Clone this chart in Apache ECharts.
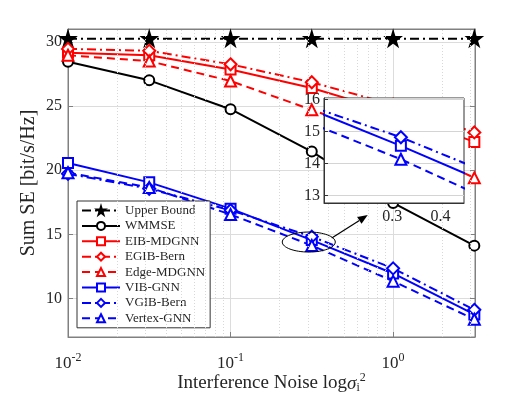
<!DOCTYPE html>
<html>
<head>
<meta charset="utf-8">
<script src="https://cdn.jsdelivr.net/npm/echarts@6/dist/echarts.min.js"></script>
<style>
  html, body { margin: 0; padding: 0; background: #fff; }
  #chart { width: 525px; height: 394px; }
</style>
</head>
<body>
<div id="chart"></div>
<script>
// interference noise levels (x)
const noise = [0.01, 0.0316, 0.1, 0.316, 1, 3.16];

// sum SE per method [bit/s/Hz]
const upperBound = [30.25, 30.25, 30.25, 30.25, 30.25, 30.25];
const wmmse      = [28.45, 27.0, 24.75, 21.45, 17.45, 14.12];
const eibMdgnn   = [29.15, 28.95, 27.85, 26.4, 24.5, 22.2];
const egibBern   = [29.45, 29.3, 28.25, 26.85, 25.1, 22.94];
const edgeMdgnn  = [28.95, 28.5, 26.95, 24.7, 22.4, 19.4];
const vibGnn     = [20.56, 19.05, 17.0, 14.55, 11.95, 8.76];
const vgibBern   = [19.72, 18.55, 16.88, 14.82, 12.35, 9.12];
const vertexGnn  = [19.8, 18.65, 16.55, 14.13, 11.35, 8.38];

// grid values
const minorX = [0.02, 0.03, 0.04, 0.05, 0.06, 0.07, 0.08, 0.09,
                0.2, 0.3, 0.4, 0.5, 0.6, 0.7, 0.8, 0.9, 2, 3];
const insetMajorX = [0.25, 0.3, 0.35, 0.4];
const insetMinorX = [0.21, 0.22, 0.23, 0.24, 0.26, 0.27, 0.28, 0.29, 0.31, 0.32, 0.33, 0.34,
                     0.36, 0.37, 0.38, 0.39, 0.41, 0.42, 0.43, 0.44, 0.45];
const insetLabelsX = [0.3, 0.4];

const FONT = 'Liberation Serif';
const STAR = 'path://M50,0 L61,35 L98,35 L68,57 L79,91 L50,70 L21,91 L32,57 L2,35 L39,35 Z';
const DASH = [8, 5];
const DASHDOT = [9, 4, 2, 4];

const methods = [
  { name: 'Upper Bound', data: upperBound, color: '#000', line: DASHDOT, symbol: STAR, size: 15 },
  { name: 'WMMSE', data: wmmse, color: '#000', line: 'solid', symbol: 'emptyCircle', size: 10 },
  { name: 'EIB-MDGNN', data: eibMdgnn, color: '#ff0000', line: 'solid', symbol: 'emptyRect', size: 10 },
  { name: 'EGIB-Bern', data: egibBern, color: '#ff0000', line: DASHDOT, symbol: 'emptyDiamond', size: 12 },
  { name: 'Edge-MDGNN', data: edgeMdgnn, color: '#ff0000', line: DASH, symbol: 'emptyTriangle', size: 11 },
  { name: 'VIB-GNN', data: vibGnn, color: '#0000ff', line: 'solid', symbol: 'emptyRect', size: 10 },
  { name: 'VGIB-Bern', data: vgibBern, color: '#0000ff', line: DASHDOT, symbol: 'emptyDiamond', size: 12 },
  { name: 'Vertex-GNN', data: vertexGnn, color: '#0000ff', line: DASH, symbol: 'emptyTriangle', size: 11 }
];

function makeSeries(m, inset) {
  return {
    name: m.name,
    type: 'line',
    xAxisIndex: inset ? 2 : 0,
    yAxisIndex: inset ? 2 : 0,
    data: noise.map((x, i) => [inset ? Math.log10(x) : x, m.data[i]]),
    symbol: m.symbol,
    symbolSize: m.size,
    clip: true,
    z: inset ? 12 : 2,
    lineStyle: { color: m.color, width: 2, type: m.line },
    itemStyle: { color: m.color, borderColor: m.color, borderWidth: 1.6 },
    emphasis: { disabled: true },
    animation: false
  };
}

const axisColor = '#808080';
const textColor = '#262626';

const chart = echarts.init(document.getElementById('chart'));

const option = {
  backgroundColor: '#fff',
  animation: false,
  grid: [
    { left: 68, top: 29, right: 50, bottom: 57, outerBoundsMode: 'none', containLabel: false,
      show: true, borderColor: axisColor, borderWidth: 1, backgroundColor: '#fff' },
    { left: 324, top: 98, width: 140, height: 105, outerBoundsMode: 'none', containLabel: false,
      show: true, borderColor: '#333', borderWidth: 1, backgroundColor: '#fff', z: 10 }
  ],
  legend: {
    left: 77, top: 201,
    orient: 'vertical',
    itemWidth: 38, itemHeight: 10, itemGap: 2.4,
    padding: [3, 5, 3, 4],
    borderColor: '#333', borderWidth: 1,
    backgroundColor: '#fff',
    textStyle: { fontFamily: FONT, fontSize: 13, color: textColor },
    data: methods.map(m => m.name)
  },
  xAxis: [
    {
      type: 'log', gridIndex: 0, min: 0.01, max: 3.19, logBase: 10,
      name: '{t|Interference Noise log}{s|σ}{sub|i}{sup|2}',
      nameLocation: 'middle', nameGap: 35, nameMoveOverlap: false,
      nameTextStyle: {
        rich: {
          t: { fontFamily: FONT, fontSize: 19, color: textColor },
          s: { fontFamily: FONT, fontSize: 19, fontStyle: 'italic', color: textColor },
          sub: { fontFamily: FONT, fontSize: 12, color: textColor, padding: [9, 0, 0, 0] },
          sup: { fontFamily: FONT, fontSize: 12, color: textColor, padding: [0, 0, 11, 0] }
        }
      },
      axisLine: { lineStyle: { color: axisColor } },
      axisTick: { inside: true, length: 5, lineStyle: { color: axisColor } },
      axisLabel: {
        margin: 15, showMaxLabel: false,
        formatter: v => '{b|10}{e|' + Math.round(Math.log10(v)) + '}',
        rich: {
          b: { fontFamily: FONT, fontSize: 17, color: textColor },
          e: { fontFamily: FONT, fontSize: 12, color: textColor, padding: [0, 0, 11, 0] }
        }
      },
      splitLine: { show: true, lineStyle: { color: '#dcdcdc', width: 1 } }
    },
    {
      type: 'log', gridIndex: 0, min: 0.01, max: 3.19, position: 'top',
      axisLine: { lineStyle: { color: axisColor } },
      axisTick: { inside: true, length: 5, lineStyle: { color: axisColor } },
      axisLabel: { show: false }, splitLine: { show: false }
    },
    {
      type: 'value', gridIndex: 1, min: Math.log10(0.2), max: Math.log10(0.46), z: 11,
      axisLine: { lineStyle: { color: '#333' } },
      axisTick: { show: false },
      axisLabel: {
        customValues: insetLabelsX.map(v => Math.log10(v)),
        formatter: v => Math.pow(10, v).toFixed(1),
        fontFamily: FONT, fontSize: 16, color: textColor, margin: 6
      },
      splitLine: { show: false }
    }
  ],
  yAxis: [
    {
      type: 'value', gridIndex: 0, min: 7, max: 31, splitNumber: 5,
      name: 'Sum SE [bit/s/Hz]', nameLocation: 'middle', nameGap: 29, nameMoveOverlap: false,
      nameTextStyle: { fontFamily: FONT, fontSize: 20, color: textColor },
      axisLine: { show: true, lineStyle: { color: axisColor } },
      axisTick: { show: true, inside: true, length: 5, lineStyle: { color: axisColor } },
      axisLabel: { showMinLabel: false, showMaxLabel: false, fontFamily: FONT, fontSize: 16, color: textColor, margin: 6 },
      splitLine: { show: true, lineStyle: { color: '#dcdcdc', width: 1 } }
    },
    {
      type: 'value', gridIndex: 0, min: 7, max: 31, splitNumber: 5, position: 'right',
      axisLine: { show: true, lineStyle: { color: axisColor } },
      axisTick: { show: true, inside: true, length: 5, lineStyle: { color: axisColor } },
      axisLabel: { show: false }, splitLine: { show: false }
    },
    {
      type: 'value', gridIndex: 1, min: 12.76, max: 16.05, splitNumber: 3, z: 11,
      axisLine: { show: true, lineStyle: { color: '#333' } },
      axisTick: { show: true, inside: true, length: 4, lineStyle: { color: '#333' } },
      axisLabel: { showMinLabel: false, showMaxLabel: false, fontFamily: FONT, fontSize: 16, color: textColor, margin: 4 },
      splitLine: { show: true, lineStyle: { color: '#d4d4d4', width: 1 } }
    }
  ],
  series: [
    // minor grid of main axes
    {
      type: 'line', xAxisIndex: 0, yAxisIndex: 0, data: [], silent: true, z: 1,
      markLine: {
        silent: true, symbol: 'none', label: { show: false },
        lineStyle: { color: '#d8d8d8', type: [1, 2], width: 1 },
        data: minorX.map(v => ({ xAxis: v }))
      }
    },
    // grid of inset
    {
      type: 'line', xAxisIndex: 2, yAxisIndex: 2, data: [], silent: true, z: 11,
      markLine: {
        silent: true, symbol: 'none', label: { show: false },
        lineStyle: { color: '#dadada', type: [1, 2], width: 1 },
        data: insetMinorX.map(v => ({ xAxis: Math.log10(v) }))
      }
    },
    {
      type: 'line', xAxisIndex: 2, yAxisIndex: 2, data: [], silent: true, z: 11,
      markLine: {
        silent: true, symbol: 'none', label: { show: false },
        lineStyle: { color: '#cfcfcf', type: 'solid', width: 1 },
        data: insetMajorX.map(v => ({ xAxis: Math.log10(v) }))
      }
    }
  ]
    .concat(methods.map(m => makeSeries(m, false)))
    .concat(methods.map(m => makeSeries(m, true)))
};

chart.setOption(option);

// ellipse around the 0.316 cluster with arrow to the zoomed view
const c = chart.convertToPixel({ xAxisIndex: 0, yAxisIndex: 0 }, [0.316, 14.4]);
const cx = c[0] - 3, cy = c[1];
const ax0 = cx + 23, ay0 = cy - 4, ax1 = cx + 59, ay1 = cy - 27;
const ang = Math.atan2(ay1 - ay0, ax1 - ax0);
const hl = 10, hw = 4;
const bx = ax1 - hl * Math.cos(ang), by = ay1 - hl * Math.sin(ang);
chart.setOption({
  graphic: [
    { type: 'ellipse', shape: { cx: cx, cy: cy, rx: 26.5, ry: 10 }, style: { fill: 'none', stroke: '#000', lineWidth: 1 }, z: 20 },
    { type: 'line', shape: { x1: ax0, y1: ay0, x2: bx, y2: by }, style: { stroke: '#000', lineWidth: 1.2 }, z: 20 },
    { type: 'polygon', shape: { points: [
        [ax1, ay1],
        [bx - hw * Math.sin(ang), by + hw * Math.cos(ang)],
        [bx + hw * Math.sin(ang), by - hw * Math.cos(ang)]
      ] }, style: { fill: '#000' }, z: 20 }
  ]
});
</script>
</body>
</html>
